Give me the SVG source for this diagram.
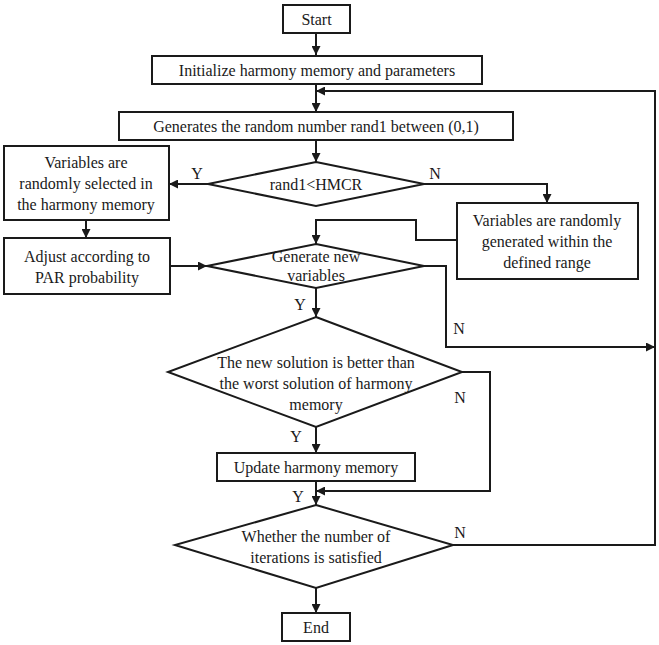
<svg xmlns="http://www.w3.org/2000/svg" width="659" height="645" viewBox="0 0 659 645">
<style>
.box{fill:#fff;stroke:#1a1a1a;stroke-width:2}
.t{font-family:"Liberation Serif","Times New Roman",serif;font-size:16px;fill:#1a1a1a;text-anchor:middle}
.c{fill:none;stroke:#1a1a1a;stroke-width:2}
</style>
<defs>
<marker id="ah" viewBox="0 0 10 10" refX="10" refY="5" markerWidth="10" markerHeight="9" markerUnits="userSpaceOnUse" orient="auto">
<path d="M0,0 L10,5 L0,10 z" fill="#1a1a1a"/>
</marker>
</defs>
<rect width="659" height="645" fill="#fff"/>
<g id="connectors">
<path class="c" d="M316,33 V55" marker-end="url(#ah)"/>
<path class="c" d="M316,84 V112" marker-end="url(#ah)"/>
<path class="c" d="M316,140 V162" marker-end="url(#ah)"/>
<path class="c" d="M208,184 H169" marker-end="url(#ah)"/>
<path class="c" d="M86,220 V238" marker-end="url(#ah)"/>
<path class="c" d="M170,266 H207" marker-end="url(#ah)"/>
<path class="c" d="M424,184 H547 V203" marker-end="url(#ah)"/>
<path class="c" d="M457,240 H416 V220 H316 V244" marker-end="url(#ah)"/>
<path class="c" d="M424,266 H446 V347 H655" marker-end="url(#ah)"/>
<path class="c" d="M316,288 V317" marker-end="url(#ah)"/>
<path class="c" d="M462,372 H490 V491 H316" marker-end="url(#ah)"/>
<path class="c" d="M316,427 V453" marker-end="url(#ah)"/>
<path class="c" d="M316,481 V505" marker-end="url(#ah)"/>
<path class="c" d="M453,545 H655 V91 H316" marker-end="url(#ah)"/>
<path class="c" d="M316,588 V613" marker-end="url(#ah)"/>
<text class="t" x="197" y="179">Y</text>
<text class="t" x="435" y="179">N</text>
<text class="t" x="300" y="310">Y</text>
<text class="t" x="459" y="334">N</text>
<text class="t" x="460" y="403">N</text>
<text class="t" x="296" y="442">Y</text>
<text class="t" x="298" y="502">Y</text>
<text class="t" x="460" y="538">N</text>
</g>
<g id="start"><rect class="box" x="283" y="5" width="67" height="28"/><text class="t" x="316.5" y="24.5">Start</text></g>
<g id="init"><rect class="box" x="152" y="56" width="330" height="28"/><text class="t" x="317" y="75.5">Initialize harmony memory and parameters</text></g>
<g id="gen-rand"><rect class="box" x="119" y="112" width="394" height="28"/><text class="t" x="316" y="131.5">Generates the random number rand1 between (0,1)</text></g>
<g id="dec-hmcr"><polygon class="box" points="316,162 424,184 316,206 208,184"/><text class="t" x="316" y="189.5">rand1&lt;HMCR</text></g>
<g id="select-mem"><rect class="box" x="4" y="146" width="165" height="74"/><text class="t" x="86" y="168">Variables are</text><text class="t" x="86" y="189">randomly selected in</text><text class="t" x="86" y="210">the harmony memory</text></g>
<g id="adjust-par"><rect class="box" x="4" y="238" width="166" height="56"/><text class="t" x="87" y="262">Adjust according to</text><text class="t" x="87" y="283">PAR probability</text></g>
<g id="random-gen"><rect class="box" x="457" y="203" width="181" height="76"/><text class="t" x="547" y="226">Variables are randomly</text><text class="t" x="547" y="247">generated within the</text><text class="t" x="547" y="268">defined range</text></g>
<g id="gen-new"><polygon class="box" points="316,244 424,266 316,288 207,266"/><text class="t" x="316" y="262">Generate new</text><text class="t" x="316" y="281">variables</text></g>
<g id="dec-better"><polygon class="box" points="316,317 462,372 316,427 168,372"/><text class="t" x="316" y="368">The new solution is better than</text><text class="t" x="316" y="389">the worst solution of harmony</text><text class="t" x="316" y="410">memory</text></g>
<g id="update"><rect class="box" x="217" y="453" width="198" height="28"/><text class="t" x="316" y="472.5">Update harmony memory</text></g>
<g id="dec-iter"><polygon class="box" points="316,505 453,545 316,588 175,545"/><text class="t" x="316" y="542">Whether the number of</text><text class="t" x="316" y="563">iterations is satisfied</text></g>
<g id="end"><rect class="box" x="282" y="613" width="68" height="28"/><text class="t" x="316" y="632.5">End</text></g>
</svg>
